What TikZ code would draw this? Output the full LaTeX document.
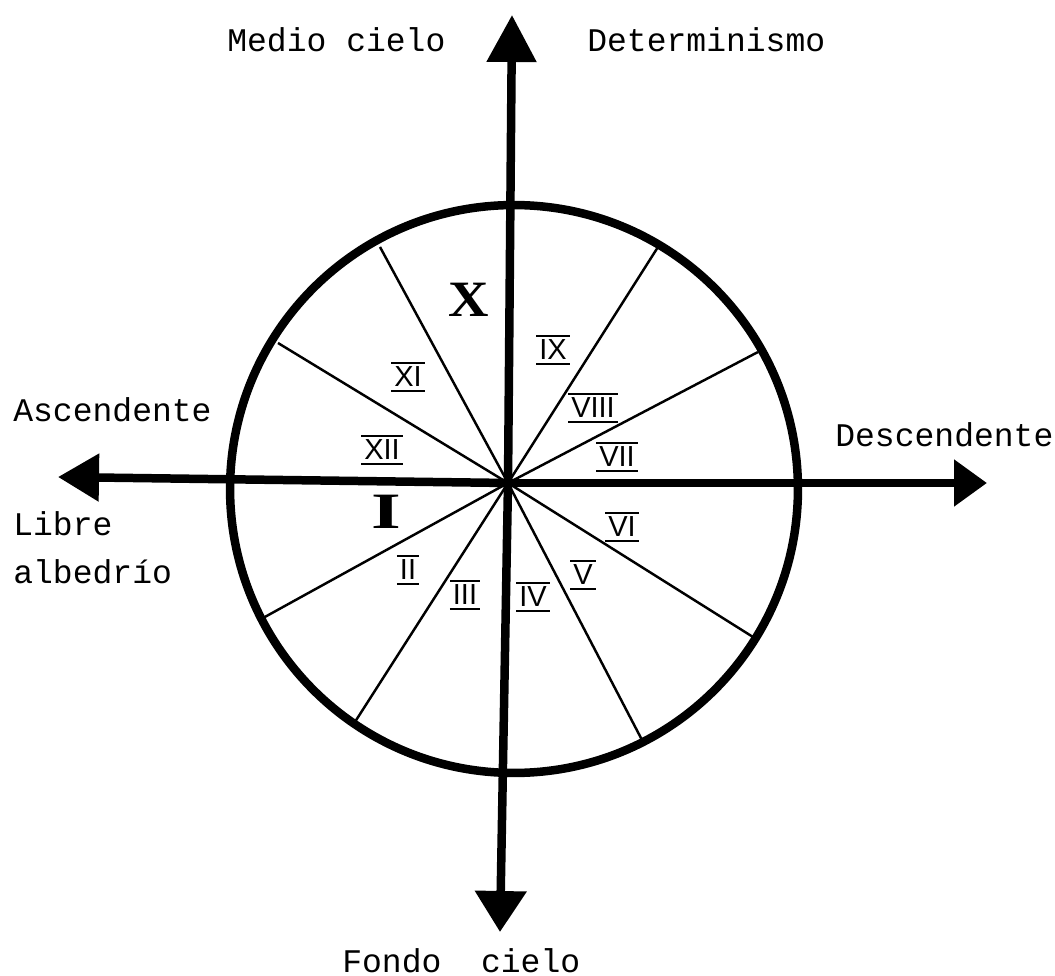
\documentclass[tikz,border=0pt]{standalone}
\usepackage{fontspec}
\setmainfont{Liberation Serif}
\newfontfamily\typewriter{Liberation Mono}
\newfontfamily\handfont{Liberation Sans}
\usetikzlibrary{arrows.meta}
\begin{document}
\begin{tikzpicture}[x=0.02cm, y=-0.02cm,
  axis/.style={line width=0.17cm, line cap=butt},
  wheel/.style={draw, circle, minimum size=11.36cm, line width=0.17cm, inner sep=0pt},
  spoke/.style={line width=1.4pt},
  lbl/.style={font=\typewriter\fontsize{18.8}{20}\selectfont, inner sep=0pt, anchor=base west},
  bar/.style={draw, line width=1.1pt},
  rn/.style={font=\handfont\fontsize{16.5}{16.5}\selectfont, inner xsep=1.5pt, inner ysep=2.2pt,
    append after command={\pgfextra{\let\rnn\tikzlastnode}
      (\rnn.north west) edge[bar] (\rnn.north east)
      (\rnn.south west) edge[bar] (\rnn.south east)}},
  bignum/.style={font=\bfseries\fontsize{29}{29}\selectfont, inner sep=0pt}
]
\useasboundingbox (0,0) rectangle (1055,976);

% centre and axis tips
\coordinate (O) at (508,483);
\coordinate (top) at (512,15);
\coordinate (bottom) at (500,932);
\coordinate (left) at (58,477);
\coordinate (right) at (987,483);

% circle
\node[wheel] (wheel) at (514,489) {};

% spokes
\coordinate (p1) at (380,247);
\coordinate (p2) at (278,343);
\coordinate (p3) at (658,247);
\coordinate (p4) at (758,352);
\coordinate (p5) at (263,618);
\coordinate (p6) at (353,725);
\coordinate (p7) at (753,637);
\coordinate (p8) at (642,740);
\foreach \p in {p1,p2,p3,p4,p5,p6,p7,p8} \draw[spoke] (O) -- (\p);

% axes
\draw[axis, -{Triangle[length=0.94cm, width=0.96cm]}] (O) -- (top);
\draw[axis, -{Triangle[length=0.82cm, width=1.0cm]}] (O) -- (bottom);
\draw[axis, -{Triangle[length=0.82cm, width=0.92cm]}] (O) -- (left);
\draw[axis, -{Triangle[length=0.66cm, width=0.9cm]}] (O) -- (right);

% labels
\node[lbl] (medio) at (227,52) {Medio cielo};
\node[lbl] (determ) at (587,52) {Determinismo};
\node[lbl] (asc) at (13,422) {Ascendente};
\node[lbl] (libre) at (13,535) {Libre};
\node[lbl] (albe) at (13,583) {albedrío};
\node[lbl] (desc) at (835,447) {Descendente};
\node[lbl] (fondo) at (342,972) {Fondo\ \ cielo};

% houses
\node[bignum, xscale=1.1] (h10) at (469,300) {X};
\node[bignum, xscale=1.5] (h1) at (386,512) {I};
\node[rn] (h11) at (408,377) {XI};
\node[rn] (h12) at (382,450) {XII};
\node[rn] (h9) at (553,350) {IX};
\node[rn] (h8) at (593,408) {VIII};
\node[rn] (h7) at (617,457) {VII};
\node[rn] (h2) at (408,570) {II};
\node[rn] (h3) at (465,595) {III};
\node[rn] (h4) at (533,597) {IV};
\node[rn] (h5) at (583,575) {V};
\node[rn] (h6) at (622,527) {VI};
\end{tikzpicture}
\end{document}
